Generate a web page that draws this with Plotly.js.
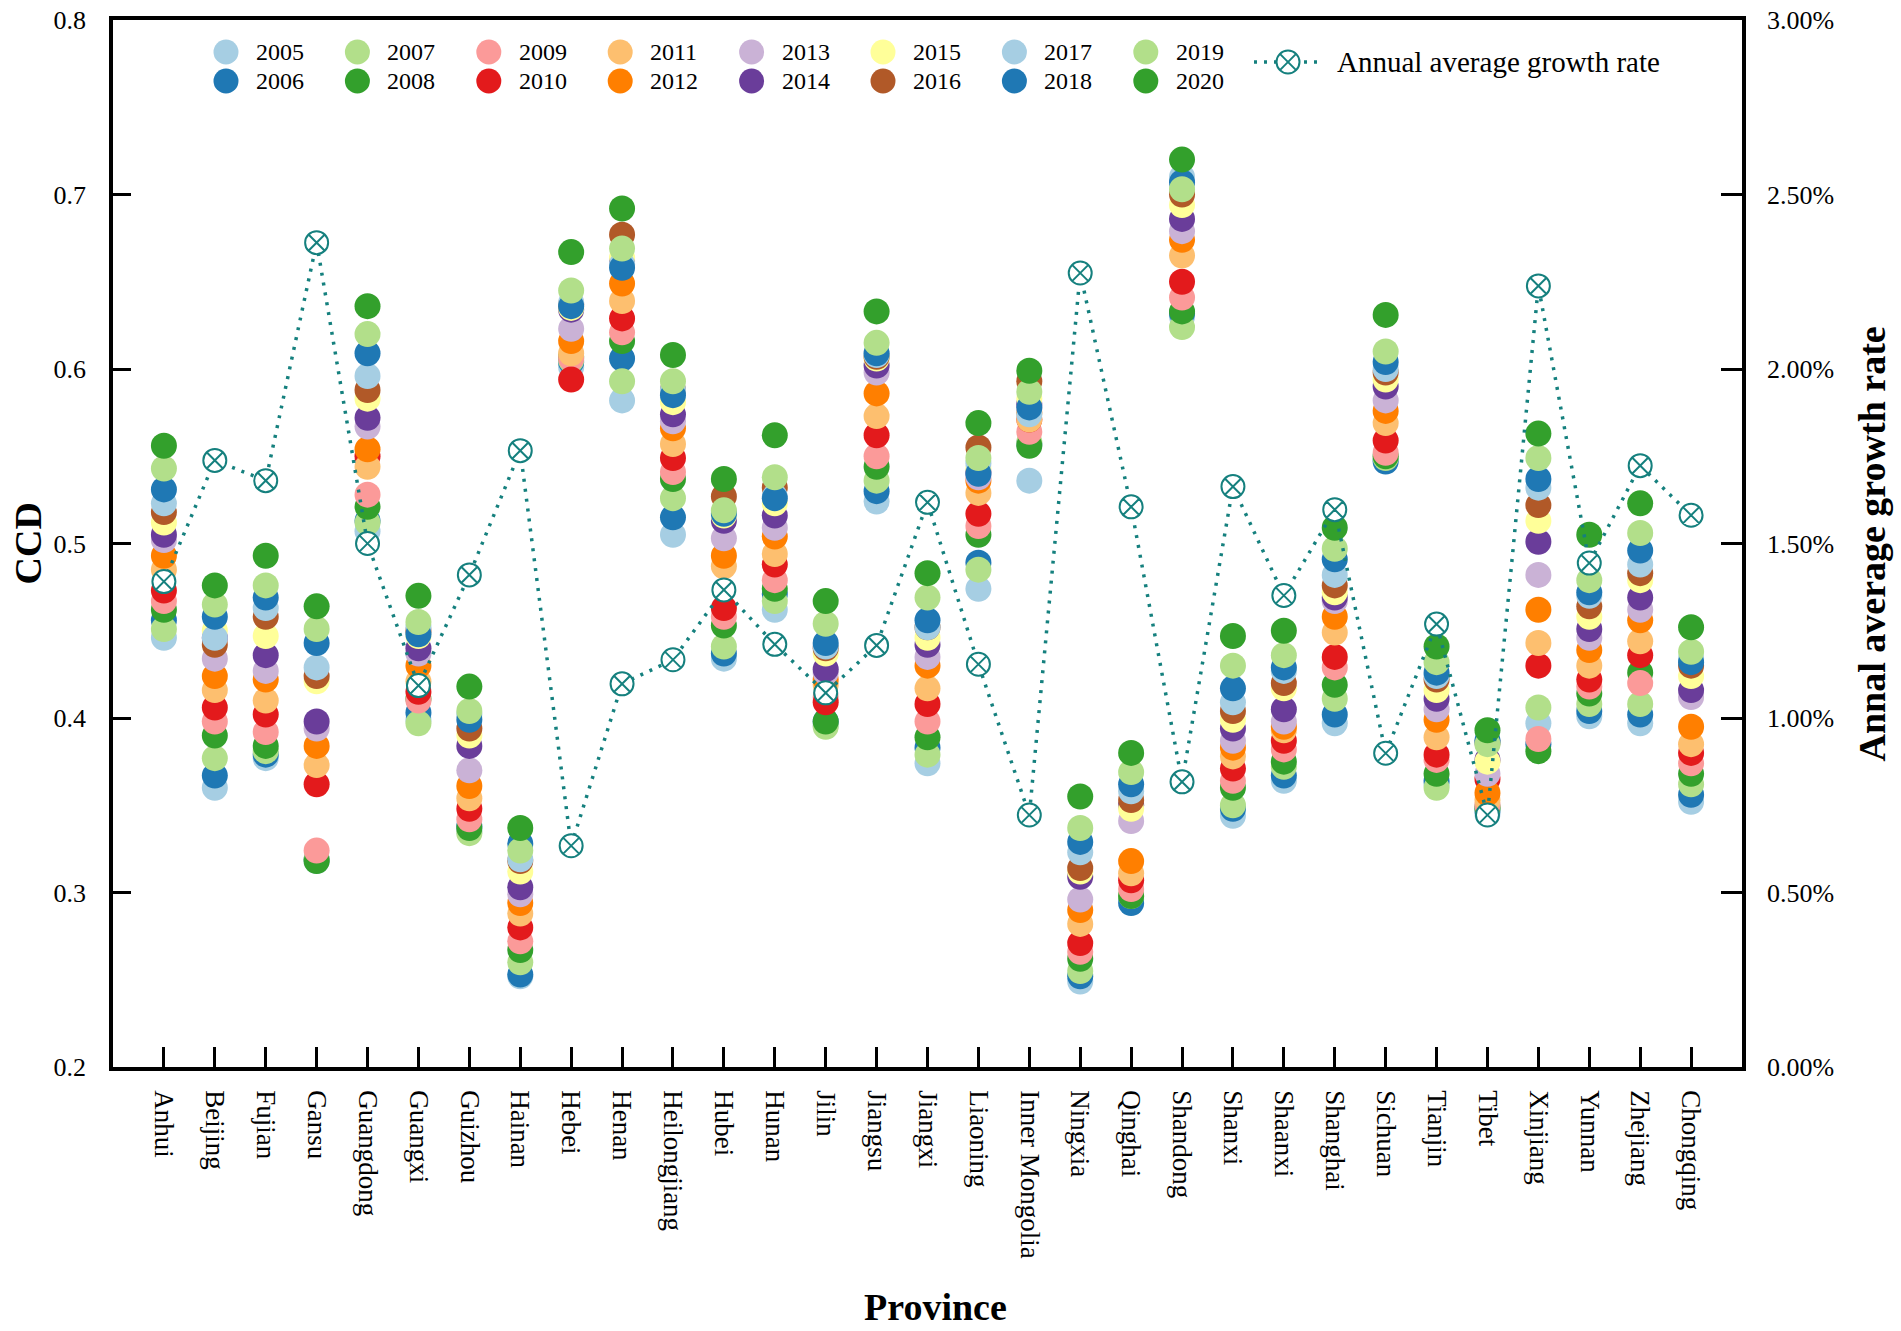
<!DOCTYPE html>
<html>
<head>
<meta charset="utf-8">
<script src="https://cdn.plot.ly/plotly-3.0.1.min.js"></script>
<style>
  html, body { margin: 0; padding: 0; background: #fff; }
  #chart { width: 1901px; height: 1331px; }
</style>
</head>
<body>
<div id="chart"></div>
<script>
// Categories and years
const provinces = ['Anhui', 'Beijing', 'Fujian', 'Gansu', 'Guangdong', 'Guangxi', 'Guizhou', 'Hainan',
  'Hebei', 'Henan', 'Heilongjiang', 'Hubei', 'Hunan', 'Jilin', 'Jiangsu', 'Jiangxi', 'Liaoning',
  'Inner Mongolia', 'Ningxia', 'Qinghai', 'Shandong', 'Shanxi', 'Shaanxi', 'Shanghai', 'Sichuan',
  'Tianjin', 'Tibet', 'Xinjiang', 'Yunnan', 'Zhejiang', 'Chongqing'];
const years = [2005, 2006, 2007, 2008, 2009, 2010, 2011, 2012, 2013, 2014, 2015, 2016, 2017, 2018, 2019, 2020];
const yearColors = ['#a6cee3', '#1f78b4', '#b2df8a', '#33a02c', '#fb9a99', '#e31a1c', '#fdbf6f', '#ff7f00',
  '#cab2d6', '#6a3d9a', '#ffff99', '#b15928', '#a6cee3', '#1f78b4', '#b2df8a', '#33a02c'];

// CCD per province, 2005 -> 2020
const anhui         = [0.446, 0.456, 0.451, 0.462, 0.467, 0.473, 0.485, 0.493, 0.502, 0.505, 0.512, 0.518, 0.523, 0.531, 0.543, 0.556];
const beijing       = [0.360, 0.367, 0.377, 0.390, 0.398, 0.406, 0.416, 0.424, 0.434, 0.446, 0.450, 0.442, 0.446, 0.458, 0.465, 0.476];
const fujian        = [0.377, 0.379, 0.381, 0.384, 0.392, 0.402, 0.410, 0.422, 0.427, 0.436, 0.447, 0.458, 0.463, 0.469, 0.476, 0.493];
const gansu         = [0.318, 0.319, 0.319, 0.318, 0.324, 0.362, 0.373, 0.384, 0.394, 0.398, 0.421, 0.424, 0.429, 0.443, 0.451, 0.464];
const guangdong     = [0.507, 0.513, 0.512, 0.521, 0.528, 0.550, 0.544, 0.554, 0.567, 0.572, 0.583, 0.588, 0.596, 0.609, 0.620, 0.636];
const guangxi       = [0.399, 0.403, 0.397, 0.411, 0.410, 0.415, 0.421, 0.430, 0.437, 0.440, 0.447, 0.450, 0.452, 0.448, 0.455, 0.470];
const guizhou       = [0.335, 0.338, 0.334, 0.337, 0.342, 0.348, 0.354, 0.361, 0.370, 0.384, 0.390, 0.394, 0.402, 0.399, 0.404, 0.418];
const hainan        = [0.252, 0.253, 0.260, 0.267, 0.272, 0.280, 0.288, 0.294, 0.299, 0.303, 0.312, 0.318, 0.319, 0.328, 0.324, 0.337];
const hebei         = [0.601, 0.604, 0.605, 0.607, 0.606, 0.594, 0.609, 0.616, 0.623, 0.634, 0.635, 0.637, 0.638, 0.636, 0.645, 0.667];
const henan         = [0.582, 0.606, 0.593, 0.616, 0.621, 0.629, 0.639, 0.649, 0.660, 0.662, 0.664, 0.677, 0.660, 0.658, 0.669, 0.692];
const heilongjiang  = [0.505, 0.515, 0.526, 0.537, 0.541, 0.549, 0.557, 0.566, 0.570, 0.574, 0.581, 0.588, 0.588, 0.585, 0.593, 0.608];
const hubei         = [0.434, 0.437, 0.441, 0.453, 0.458, 0.463, 0.487, 0.493, 0.503, 0.513, 0.516, 0.527, 0.518, 0.517, 0.519, 0.537];
const hunan         = [0.462, 0.471, 0.467, 0.474, 0.479, 0.488, 0.494, 0.504, 0.509, 0.516, 0.523, 0.532, 0.527, 0.526, 0.538, 0.562];
const jilin         = [0.396, 0.398, 0.395, 0.398, 0.412, 0.409, 0.419, 0.422, 0.426, 0.428, 0.437, 0.440, 0.441, 0.443, 0.454, 0.467];
const jiangsu       = [0.524, 0.530, 0.536, 0.544, 0.550, 0.562, 0.573, 0.586, 0.598, 0.602, 0.606, 0.607, 0.608, 0.609, 0.615, 0.633];
const jiangxi       = [0.374, 0.383, 0.379, 0.389, 0.398, 0.408, 0.417, 0.430, 0.435, 0.442, 0.446, 0.452, 0.452, 0.456, 0.469, 0.483];
const liaoning      = [0.474, 0.489, 0.485, 0.505, 0.510, 0.517, 0.529, 0.536, 0.538, 0.541, 0.543, 0.555, 0.546, 0.540, 0.549, 0.569];
const innerMongolia = [0.536, 0.557, 0.558, 0.556, 0.564, 0.571, 0.571, 0.575, 0.578, 0.580, 0.583, 0.593, 0.574, 0.578, 0.587, 0.599];
const ningxia       = [0.249, 0.252, 0.255, 0.262, 0.266, 0.271, 0.282, 0.290, 0.296, 0.309, 0.312, 0.314, 0.323, 0.329, 0.337, 0.355];
const qinghai       = [0.296, 0.294, 0.298, 0.298, 0.302, 0.307, 0.311, 0.318, 0.341, 0.350, 0.348, 0.353, 0.358, 0.362, 0.369, 0.380];
const shandong      = [0.630, 0.632, 0.624, 0.633, 0.641, 0.650, 0.665, 0.674, 0.679, 0.686, 0.694, 0.700, 0.710, 0.707, 0.703, 0.720];
const shanxi        = [0.344, 0.348, 0.350, 0.360, 0.364, 0.371, 0.378, 0.383, 0.387, 0.394, 0.399, 0.404, 0.409, 0.417, 0.430, 0.447];
const shaanxi       = [0.364, 0.367, 0.372, 0.375, 0.382, 0.387, 0.393, 0.395, 0.398, 0.405, 0.417, 0.420, 0.427, 0.429, 0.436, 0.450];
const shanghai      = [0.397, 0.402, 0.411, 0.419, 0.429, 0.435, 0.449, 0.458, 0.467, 0.469, 0.472, 0.476, 0.482, 0.491, 0.497, 0.509];
const sichuan       = [0.548, 0.547, 0.549, 0.550, 0.552, 0.559, 0.569, 0.576, 0.582, 0.590, 0.594, 0.598, 0.600, 0.604, 0.610, 0.631];
const tianjin       = [0.362, 0.364, 0.360, 0.368, 0.376, 0.379, 0.389, 0.399, 0.405, 0.411, 0.416, 0.422, 0.424, 0.426, 0.432, 0.441];
const tibet         = [0.345, 0.347, 0.348, 0.349, 0.350, 0.365, 0.353, 0.357, 0.368, 0.376, 0.375, 0.386, 0.386, 0.387, 0.385, 0.393];
const xinjiang      = [0.397, 0.385, 0.406, 0.381, 0.388, 0.430, 0.443, 0.462, 0.482, 0.501, 0.513, 0.522, 0.532, 0.537, 0.549, 0.563];
const yunnan        = [0.401, 0.404, 0.408, 0.414, 0.418, 0.422, 0.430, 0.439, 0.446, 0.451, 0.458, 0.464, 0.470, 0.472, 0.479, 0.505];
const zhejiang      = [0.397, 0.402, 0.408, 0.426, 0.420, 0.436, 0.444, 0.456, 0.462, 0.469, 0.479, 0.483, 0.488, 0.496, 0.506, 0.523];
const chongqing     = [0.352, 0.356, 0.362, 0.368, 0.374, 0.380, 0.385, 0.395, 0.412, 0.416, 0.424, 0.430, 0.434, 0.432, 0.438, 0.452];

const ccd = [anhui, beijing, fujian, gansu, guangdong, guangxi, guizhou, hainan, hebei, henan,
  heilongjiang, hubei, hunan, jilin, jiangsu, jiangxi, liaoning, innerMongolia, ningxia, qinghai,
  shandong, shanxi, shaanxi, shanghai, sichuan, tianjin, tibet, xinjiang, yunnan, zhejiang, chongqing];

// Annual average growth rate (%) per province
const growthRate = [1.391, 1.738, 1.680, 2.362, 1.500, 1.093, 1.410, 1.766, 0.634, 1.098, 1.167, 1.367,
  1.211, 1.072, 1.208, 1.618, 1.154, 0.722, 2.275, 1.605, 0.817, 1.663, 1.351, 1.597, 0.899, 1.269,
  0.722, 2.238, 1.444, 1.723, 1.581];

const FONT = 'Liberation Serif, Times New Roman, serif';
const TEAL = '#15807e';

// page geometry, used for legend / titles placed in paper coords
const W = 1901, H = 1331;
const M = { l: 113, r: 159, t: 20, b: 264 };
const plotW = W - M.l - M.r;
const plotH = H - M.t - M.b;
const px = x => (x - M.l) / plotW;
const py = y => (M.t + plotH - y) / plotH;

// one trace per year, later years drawn on top
const traces = years.map((yr, i) => ({
  x: provinces,
  y: ccd.map(row => row[i]),
  type: 'scatter',
  mode: 'markers',
  name: String(yr),
  showlegend: false,
  hoverinfo: 'skip',
  marker: { size: 26, color: yearColors[i], line: { width: 0 } }
}));

traces.push({
  x: provinces,
  y: growthRate.map(g => g / 100),
  yaxis: 'y2',
  type: 'scatter',
  mode: 'lines+markers',
  name: 'Annual average growth rate',
  showlegend: false,
  line: { color: TEAL, width: 3.5, dash: '3px,7px' },
  marker: { symbol: 'circle-x', size: 23, color: 'white', line: { color: TEAL, width: 2 } }
});

// hand-built legend: two rows of years, then the growth-rate entry
const shapes = [];
const annotations = [];
const legendFont = { family: FONT, size: 24, color: '#000' };

years.forEach((yr, i) => {
  const col = Math.floor(i / 2);
  const row = i % 2;
  const cx = 226 + col * 131.4;
  const cy = 52 + row * 29;
  shapes.push({
    type: 'circle', xref: 'paper', yref: 'paper',
    xsizemode: 'pixel', ysizemode: 'pixel',
    xanchor: px(cx), yanchor: py(cy),
    x0: -12.5, x1: 12.5, y0: -12.5, y1: 12.5,
    fillcolor: yearColors[i], line: { width: 0 }
  });
  annotations.push({
    text: String(yr), xref: 'paper', yref: 'paper',
    x: px(cx + 28), y: py(cy), xanchor: 'left', yanchor: 'middle',
    showarrow: false, font: legendFont
  });
});

// growth-rate legend sample: dotted line with a circle-x marker
const gx = 1288, gy = 62;
function pixShape(extra) {
  return Object.assign({
    xref: 'paper', yref: 'paper', xsizemode: 'pixel', ysizemode: 'pixel',
    xanchor: px(gx), yanchor: py(gy)
  }, extra);
}
shapes.push(
  pixShape({ type: 'line', x0: -34, x1: 35, y0: 0, y1: 0, line: { color: TEAL, width: 3.5, dash: '3px,7px' } }),
  pixShape({ type: 'circle', x0: -11.5, x1: 11.5, y0: -11.5, y1: 11.5, fillcolor: '#fff', line: { color: TEAL, width: 2 } }),
  pixShape({ type: 'line', x0: -8.1, x1: 8.1, y0: -8.1, y1: 8.1, line: { color: TEAL, width: 2 } }),
  pixShape({ type: 'line', x0: -8.1, x1: 8.1, y0: 8.1, y1: -8.1, line: { color: TEAL, width: 2 } })
);
annotations.push({
  text: 'Annual average growth rate', xref: 'paper', yref: 'paper',
  x: px(1335), y: py(gy), xanchor: 'left', yanchor: 'middle',
  showarrow: false, font: { family: FONT, size: 29, color: '#000' }
});

// axis titles
const titleFont = { family: FONT, size: 38, color: '#000', weight: 'bold' };
annotations.push(
  { text: '<b>CCD</b>', xref: 'paper', yref: 'paper', x: px(27), y: 0.5, textangle: -90,
    xanchor: 'center', yanchor: 'middle', showarrow: false, font: titleFont },
  { text: '<b>Province</b>', xref: 'paper', yref: 'paper', x: px(935), y: py(1307),
    xanchor: 'center', yanchor: 'middle', showarrow: false, font: titleFont },
  { text: '<b>Annal average growth rate</b>', xref: 'paper', yref: 'paper', x: px(1871), y: 0.5,
    textangle: -90, xanchor: 'center', yanchor: 'middle', showarrow: false, font: titleFont }
);

const layout = {
  width: W,
  height: H,
  margin: M,
  paper_bgcolor: '#fff',
  plot_bgcolor: '#fff',
  font: { family: FONT, color: '#000' },
  showlegend: false,
  xaxis: {
    type: 'category',
    range: [-1, 31],
    showline: true, linewidth: 3.5, linecolor: '#000', mirror: true,
    ticks: 'inside', ticklen: 20, tickwidth: 2.5, tickcolor: '#000',
    tickangle: 90,
    ticklabelstandoff: 14,
    tickfont: { family: FONT, size: 27, color: '#000' },
    showgrid: false, zeroline: false
  },
  yaxis: {
    range: [0.2, 0.8],
    tick0: 0.2, dtick: 0.1, tickformat: '.1f',
    showline: true, linewidth: 3.5, linecolor: '#000',
    ticks: 'inside', ticklen: 18, tickwidth: 2.5, tickcolor: '#000',
    ticklabelstandoff: 18,
    tickfont: { family: FONT, size: 26, color: '#000' },
    showgrid: false, zeroline: false
  },
  yaxis2: {
    overlaying: 'y', side: 'right',
    range: [0, 0.03],
    tick0: 0, dtick: 0.005, tickformat: '.2%',
    showline: true, linewidth: 3.5, linecolor: '#000',
    ticks: 'inside', ticklen: 21, tickwidth: 2.5, tickcolor: '#000',
    ticklabelstandoff: 16,
    tickfont: { family: FONT, size: 26, color: '#000' },
    showgrid: false, zeroline: false
  },
  shapes: shapes,
  annotations: annotations
};

Plotly.newPlot('chart', traces, layout, { displayModeBar: false, responsive: false });
</script>
</body>
</html>
